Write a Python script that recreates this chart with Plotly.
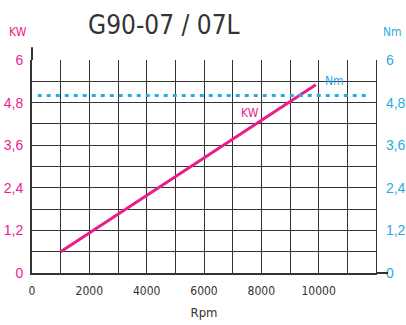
import plotly.graph_objects as go

# Data
rpm_kw = [1000, 9900]
kw_vals = [0.6, 5.3]
rpm_nm = [200, 11650]
nm_vals = [5.0, 5.0]

x_grid = list(range(0, 12001, 1000))
x_labels = ["0", "", "2000", "", "4000", "", "6000", "", "8000", "", "10000", "", ""]
y_grid = [0, 0.6, 1.2, 1.8, 2.4, 3.0, 3.6, 4.2, 4.8, 5.4, 6.0]
y_labels = ["0", "", "1,2", "", "2,4", "", "3,6", "", "4,8", "", "6"]

PINK = "#ec1c8c"
CYAN = "#29abe2"
GRID = "#333333"
FONT = "DejaVu Sans Condensed, Liberation Sans Narrow, sans-serif"
FONT2 = "Liberation Sans, Arial, sans-serif"

fig = go.Figure()
fig.add_trace(go.Scatter(x=rpm_nm, y=nm_vals, mode="lines",
                         line=dict(color=CYAN, width=3, dash="4px,5px"),
                         yaxis="y2", hoverinfo="skip"))
fig.add_trace(go.Scatter(x=rpm_kw, y=kw_vals, mode="lines",
                         line=dict(color=PINK, width=3), hoverinfo="skip"))

fig.update_layout(
    width=406, height=325,
    margin=dict(l=32, r=30, t=60, b=52),
    paper_bgcolor="white", plot_bgcolor="white",
    showlegend=False,
    font=dict(family=FONT, color="#333333", size=12),
    xaxis=dict(range=[0, 12000], tickvals=x_grid, ticktext=x_labels,
               showgrid=True, gridcolor=GRID, gridwidth=1.3, automargin=False,
               zeroline=False, showline=True, linecolor=GRID, linewidth=2,
               ticks="", ticklabelstandoff=6,
               tickfont=dict(size=12, color="#333333", family=FONT),
               title=dict(text="Rpm", font=dict(size=13, color="#333333", family=FONT), standoff=10)),
    yaxis=dict(range=[0, 6], tickvals=y_grid, ticktext=y_labels,
               showgrid=True, gridcolor=GRID, gridwidth=1.3, automargin=False,
               zeroline=False, showline=True, linecolor=GRID, linewidth=2,
               ticks="", ticklabelstandoff=4,
               tickfont=dict(size=14, color=PINK, family=FONT2)),
    yaxis2=dict(range=[0, 6], overlaying="y", side="right",
                tickvals=y_grid, ticktext=y_labels, automargin=False,
                showgrid=False, zeroline=False, showline=True,
                linecolor=GRID, linewidth=1.3, ticks="", ticklabelstandoff=6,
                tickfont=dict(size=14, color=CYAN, family=FONT2)),
)

fig.add_annotation(text="G90-07 / 07L", xref="paper", yref="paper",
                   x=(164 - 32) / 344, y=(273 - 25) / 213,
                   xanchor="center", yanchor="middle", showarrow=False,
                   font=dict(size=26, color="#333333", family=FONT))
fig.add_annotation(text="KW", xref="paper", yref="paper", x=-0.041, y=1.131,
                   xanchor="center", yanchor="middle", showarrow=False,
                   font=dict(size=12, color=PINK, family=FONT))
fig.add_annotation(text="Nm", xref="paper", yref="paper", x=1.049, y=1.131,
                   xanchor="center", yanchor="middle", showarrow=False,
                   font=dict(size=12, color=CYAN, family=FONT))
fig.add_annotation(text="KW", x=7600, y=4.5, showarrow=False,
                   font=dict(size=12, color=PINK, family=FONT))
fig.add_annotation(text="Nm", x=10550, y=5.42, showarrow=False,
                   font=dict(size=12, color=CYAN, family=FONT))

# extended baseline beyond the right axis
fig.add_shape(type="line", xref="paper", yref="paper", x0=1.0, x1=1.035, y0=0, y1=0,
              line=dict(color=GRID, width=2))
# left axis extension above the top
fig.add_shape(type="line", xref="paper", yref="paper", x0=0, x1=0, y0=1.0, y1=1.06,
              line=dict(color=GRID, width=2))

fig.write_html("out.html", config={"displayModeBar": False},
               post_script="document.body.style.margin='0';")
